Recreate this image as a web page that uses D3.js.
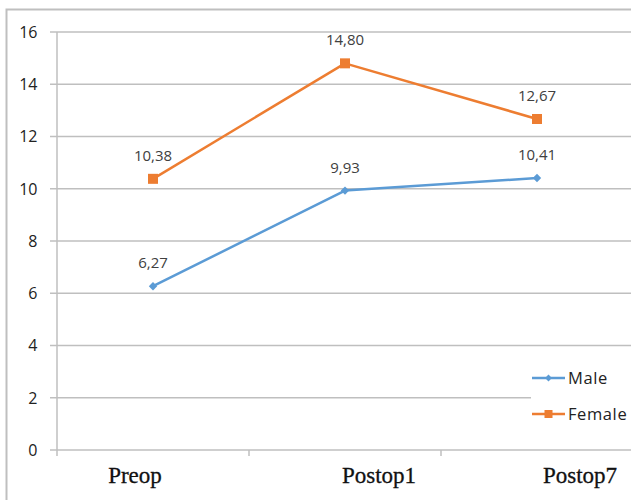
<!DOCTYPE html>
<html><head><meta charset="utf-8">
<script src="https://cdn.jsdelivr.net/npm/d3@7"></script>
<style>body{margin:0;background:#fff}svg{display:block}</style>
</head><body>
<script>
const categories = ["Preop", "Postop1", "Postop7"];
const maleValues = [6.27, 9.93, 10.41];
const femaleValues = [10.38, 14.80, 12.67];
const yTicks = [0, 2, 4, 6, 8, 10, 12, 14, 16];
const seriesNames = ["Male", "Female"];
const seriesColors = ["#5B9BD5", "#ED7D31"];

(function () {
const W = 631, H = 500;
// horizontal nudge of each category label relative to its band centre (layout only)
const labelNudge = [-18, 34, 43];
const svg = d3.select("body").append("svg").attr("width", W).attr("height", H);
svg.append("rect").attr("width", W).attr("height", H).attr("fill", "#fff");
// outer border
svg.append("rect").attr("x", 6.5).attr("y", 9.5).attr("width", 640).attr("height", 520)
  .attr("fill", "none").attr("stroke", "#bfbfbf").attr("stroke-width", 2);

const mLeft = 57, mTop = 32, mBottom = 450, mRight = 633;
const x = d3.scaleBand().domain(categories).range([mLeft, mRight]);
const y = d3.scaleLinear().domain([0, 16]).range([mBottom, mTop]);

// gridlines
const grid = svg.append("g");
yTicks.forEach(t => {
  grid.append("line").attr("x1", mLeft - 7).attr("x2", W).attr("y1", y(t)).attr("y2", y(t))
    .attr("stroke", "#bfbfbf").attr("stroke-width", 1.5);
});
// y axis line
svg.append("line").attr("x1", mLeft).attr("x2", mLeft).attr("y1", mTop).attr("y2", mBottom)
  .attr("stroke", "#bfbfbf").attr("stroke-width", 1.5);
// x tick marks at band boundaries
categories.forEach(c => {
  const bx = x(c);
  svg.append("line").attr("x1", bx).attr("x2", bx).attr("y1", mBottom).attr("y2", mBottom + 6)
    .attr("stroke", "#bfbfbf").attr("stroke-width", 1.5);
});

// y tick labels
svg.append("g").selectAll("text").data(yTicks).join("text")
  .attr("x", 37.5).attr("y", d => y(d)).attr("dy", "0.36em").attr("text-anchor", "end")
  .attr("font-family", "Open Sans, Liberation Sans, sans-serif").attr("font-size", 16)
  .attr("fill", "#222").text(d => d);

// x labels
svg.append("g").selectAll("text").data(categories).join("text")
  .attr("x", (d, i) => x(d) + x.bandwidth() / 2 + labelNudge[i]).attr("y", 483).attr("text-anchor", "middle")
  .attr("font-family", "Liberation Serif, DejaVu Serif, serif").attr("font-size", 23)
  .attr("fill", "#111").attr("stroke", "#111").attr("stroke-width", 0.3).text(d => d);

const cx = d => x(d) + x.bandwidth() / 2;
const fmt = v => v.toFixed(2).replace(".", ",");
const allSeries = [maleValues, femaleValues];
const line = d3.line().x((d, i) => cx(categories[i])).y(d => y(d));

allSeries.forEach((vals, si) => {
  const col = seriesColors[si];
  svg.append("path").datum(vals).attr("d", line).attr("fill", "none")
    .attr("stroke", col).attr("stroke-width", 2.5).attr("stroke-linejoin", "round");
  vals.forEach((v, i) => {
    const px = cx(categories[i]), py = y(v);
    if (si === 0) {
      svg.append("path").attr("d", d3.symbol(d3.symbolDiamond2, 45)())
        .attr("transform", `translate(${px},${py})`).attr("fill", col);
    } else {
      svg.append("rect").attr("x", px - 5).attr("y", py - 5).attr("width", 10).attr("height", 10).attr("fill", col);
    }
    svg.append("text").attr("x", px).attr("y", py - 18).attr("text-anchor", "middle")
      .attr("font-family", "Open Sans, Liberation Sans, sans-serif").attr("font-size", 15)
      .attr("fill", "#404040").text(fmt(v));
  });
});

// legend
const lg = svg.append("g");
lg.append("rect").attr("x", 531).attr("y", 360).attr("width", 110).attr("height", 75).attr("fill", "#fff");
const legendY = [378, 414];
seriesNames.forEach((n, i) => {
  const ly = legendY[i], col = seriesColors[i];
  lg.append("line").attr("x1", 532).attr("x2", 565).attr("y1", ly).attr("y2", ly)
    .attr("stroke", col).attr("stroke-width", 2.5);
  if (i === 0) {
    lg.append("path").attr("d", d3.symbol(d3.symbolDiamond2, 30)())
      .attr("transform", `translate(548.5,${ly})`).attr("fill", col);
  } else {
    lg.append("rect").attr("x", 544.5).attr("y", ly - 4).attr("width", 8).attr("height", 8).attr("fill", col);
  }
  lg.append("text").attr("x", 568).attr("y", ly).attr("dy", "0.36em")
    .attr("font-family", "Open Sans, Liberation Sans, sans-serif").attr("font-size", 16.5)
    .attr("letter-spacing", 0.6).attr("fill", "#222").text(n);
});
})();
</script>
</body></html>
